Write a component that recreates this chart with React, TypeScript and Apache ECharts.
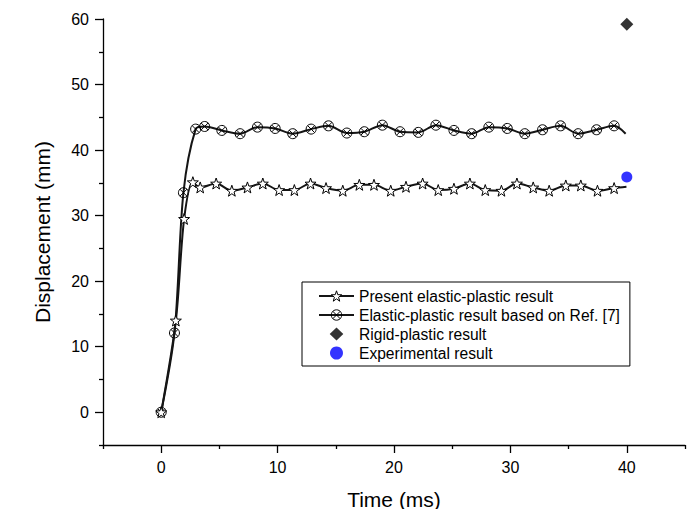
import React, { useEffect, useRef } from "react";
import * as echarts from "echarts";

// Present elastic-plastic result (stars)
const timeStar = [0, 1.26, 1.97, 2.72, 3.35, 4.72, 6.07, 7.41, 8.73, 10.13, 11.44, 12.83, 14.16, 15.6, 17.02, 18.28, 19.72, 21.03, 22.46, 23.8, 25.15, 26.52, 27.84, 29.23, 30.56, 31.96, 33.33, 34.76, 36.05, 37.48, 38.91, 39.97];
const dispStar = [0, 14.0, 29.5, 35.1, 34.3, 34.9, 33.8, 34.3, 34.9, 33.9, 33.9, 34.9, 34.2, 33.8, 34.7, 34.7, 33.8, 34.4, 34.9, 33.9, 34.1, 34.9, 33.9, 33.8, 34.9, 34.3, 33.8, 34.6, 34.6, 33.8, 34.2, 34.4];

// Elastic-plastic result based on Ref. [7] (crossed circles)
const timeRef = [0, 1.14, 1.91, 2.96, 3.73, 5.21, 6.78, 8.27, 9.79, 11.3, 12.88, 14.37, 15.95, 17.45, 19.0, 20.52, 22.09, 23.6, 25.15, 26.67, 28.15, 29.73, 31.24, 32.76, 34.31, 35.82, 37.4, 38.91, 39.9];
const dispRef = [0, 12.1, 33.5, 43.2, 43.6, 43.0, 42.5, 43.5, 43.3, 42.5, 43.2, 43.7, 42.6, 42.8, 43.8, 42.8, 42.7, 43.8, 43.0, 42.5, 43.5, 43.3, 42.5, 43.1, 43.7, 42.5, 43.1, 43.7, 42.5];

const rigidPoint = [40, 59.2];
const expPoint = [40, 35.9];

const seriesNames = [
  "Present elastic-plastic result",
  "Elastic-plastic result based on Ref. [7]",
  "Rigid-plastic result",
  "Experimental result",
];

const xMajor = [0, 10, 20, 30, 40];
const xMinor = [-5, 5, 15, 25, 35, 45];
const yMajor = [0, 10, 20, 30, 40, 50, 60];
const yMinor = [-5, 5, 15, 25, 35, 45, 55];

const STAR =
  "path://M50,0L61.76,33.82L97.55,34.55L69.02,56.18L79.39,90.45L50,70L20.61,90.45L30.98,56.18L2.45,34.55L38.24,33.82Z";
const XCIRCLE =
  "path://M50,0A50,50,0,1,1,49.99,0ZM14.6,14.6L85.4,85.4M85.4,14.6L14.6,85.4";
// legend icon: diamond centred in a 35 x 13 box (tiny corner marks fix the box)
const LEGEND_DIAMOND =
  "path://M0,0L0.01,0L0.01,0.01ZM35,13L34.99,13L34.99,12.99ZM17.5,0L24.3,6.5L17.5,13L10.7,6.5Z";

const FONT = "'Liberation Sans', Arial, sans-serif";

function build(ts: number[], ds: number[]) {
  const last = ts.length - 1;
  return ts.map((t, i) =>
    i === last ? { value: [t, ds[i]], symbol: "none" } : [t, ds[i]]
  );
}

export default function App() {
  const ref = useRef<HTMLDivElement>(null);
  useEffect(() => {
    if (!ref.current) return;
    const chart = echarts.init(ref.current, null, { renderer: "svg" });
    const axisCommon = {
      type: "value",
      axisLine: { show: true, onZero: false, lineStyle: { color: "#000", width: 1.3 } },
      splitLine: { show: false },
    };
    const hiddenLine = { show: false, onZero: false };
    chart.setOption({
      animation: false,
      backgroundColor: "#fff",
      grid: { left: 103, right: 12, top: 19, bottom: 72, outerBoundsMode: "none" },
      legend: {
        orient: "vertical",
        left: 302,
        top: 282,
        padding: [6, 10, 5, 16],
        itemWidth: 35,
        itemHeight: 13,
        itemGap: 3,
        borderColor: "#000",
        borderWidth: 1,
        textStyle: { fontSize: 15.6, fontFamily: FONT, color: "#000" },
        data: [
          { name: seriesNames[0], itemStyle: { color: "#fff", borderColor: "#000", borderWidth: 1 } },
          { name: seriesNames[1], itemStyle: { color: "rgba(255,255,255,0)", borderColor: "#000", borderWidth: 1 } },
          { name: seriesNames[2], icon: LEGEND_DIAMOND },
          { name: seriesNames[3], icon: "circle" },
        ],
      },
      xAxis: [
        {
          ...axisCommon,
          min: -5,
          max: 45,
          interval: 5,
          position: "bottom",
          name: "Time (ms)",
          nameLocation: "middle",
          nameGap: 44,
          nameTextStyle: { fontSize: 21, fontFamily: FONT, color: "#000" },
          axisTick: { show: true, length: 8, customValues: xMajor, lineStyle: { color: "#000", width: 1.3 } },
          axisLabel: {
            margin: 14,
            fontSize: 16,
            fontFamily: FONT,
            color: "#000",
            customValues: xMajor,
          },
        },
        {
          ...axisCommon,
          min: -5,
          max: 45,
          interval: 5,
          position: "bottom",
          axisLine: hiddenLine,
          axisTick: { show: true, length: 4, customValues: xMinor, lineStyle: { color: "#000", width: 1.3 } },
          axisLabel: { show: false },
        },
      ],
      yAxis: [
        {
          ...axisCommon,
          min: -5,
          max: 60,
          interval: 5,
          position: "left",
          name: "Displacement (mm)",
          nameLocation: "middle",
          nameGap: 50,
          nameTextStyle: { fontSize: 21, fontFamily: FONT, color: "#000" },
          axisTick: { show: true, length: 8, customValues: yMajor, lineStyle: { color: "#000", width: 1.3 } },
          axisLabel: {
            margin: 14,
            fontSize: 16,
            fontFamily: FONT,
            color: "#000",
            customValues: yMajor,
          },
        },
        {
          ...axisCommon,
          min: -5,
          max: 60,
          interval: 5,
          position: "left",
          axisLine: hiddenLine,
          axisTick: { show: true, length: 4, customValues: yMinor, lineStyle: { color: "#000", width: 1.3 } },
          axisLabel: { show: false },
        },
      ],
      series: [
        {
          name: seriesNames[0],
          type: "line",
          smooth: 0.3,
          data: build(timeStar, dispStar),
          symbol: STAR,
          symbolSize: 11,
          showAllSymbol: true,
          lineStyle: { color: "#151515", width: 2 },
          itemStyle: { color: "#fff", borderColor: "#000", borderWidth: 1 },
          z: 3,
        },
        {
          name: seriesNames[1],
          type: "line",
          smooth: 0.3,
          data: build(timeRef, dispRef),
          symbol: XCIRCLE,
          symbolSize: 10,
          showAllSymbol: true,
          lineStyle: { color: "#151515", width: 2 },
          itemStyle: { color: "rgba(255,255,255,0)", borderColor: "#000", borderWidth: 1 },
          z: 2,
        },
        {
          name: seriesNames[2],
          type: "scatter",
          data: [rigidPoint],
          symbol: "diamond",
          symbolSize: 13,
          symbolKeepAspect: true,
          itemStyle: { color: "#000" },
        },
        {
          name: seriesNames[3],
          type: "scatter",
          data: [expPoint],
          symbol: "circle",
          symbolSize: 11,
          symbolKeepAspect: true,
          itemStyle: { color: "#0000ff" },
        },
      ],
    });
    return () => chart.dispose();
  }, []);
  return <div ref={ref} style={{ width: 697, height: 517, margin: -8 }} />;
}
